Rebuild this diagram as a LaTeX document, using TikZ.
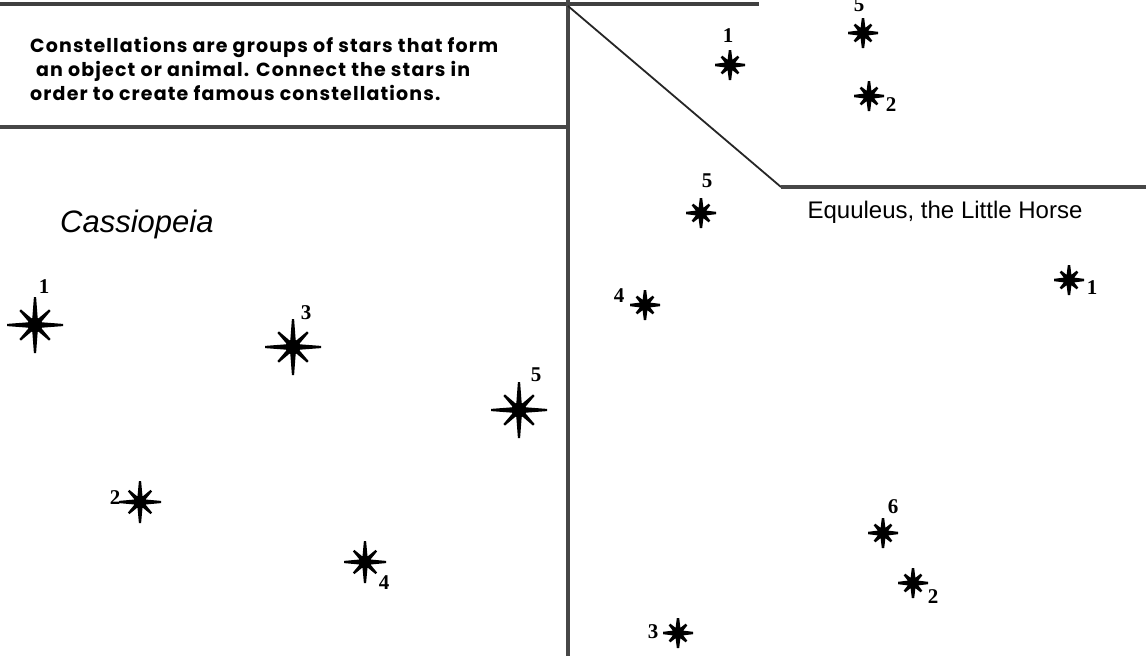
\documentclass[tikz,border=0pt]{standalone}
\usepackage{fontspec}
\setmainfont{Liberation Sans}
\newfontfamily\numfont{Liberation Serif}
\newfontfamily\comicfont[LetterSpace=6]{Poppins}
\begin{document}
\begin{tikzpicture}[x=1pt,y=-1pt,
  frameline/.style={draw=black!72, line width=3.2pt},
  topbar/.style={draw=black!75, line width=4.5pt},
  diagline/.style={draw=black!85, line width=1.8pt},
  lab/.style={font=\numfont\bfseries\fontsize{21}{21}\selectfont, inner sep=0pt},
  pics/starshape/.style n args={6}{code={
    % #1 main length, #2 diag length, #3 half base width, #4 half tip width, #5 blob radius, #6 diag half base
    \foreach \a in {0,90,180,270}
      \fill (\a+90:#3) -- ([shift={(\a:#1)}]\a+90:#4) -- ([shift={(\a:#1)}]\a-90:#4) -- (\a-90:#3) -- cycle;
    \foreach \a in {45,135,225,315}
      \fill (\a+90:#6) -- ([shift={(\a:#2)}]\a+90:#4) -- ([shift={(\a:#2)}]\a-90:#4) -- (\a-90:#6) -- cycle;
    \fill (0,0) circle[radius=#5];
  }},
  pics/bigstar/.style={starshape={28}{21}{3.2}{1.1}{7.5}{2.8}},
  pics/midstar/.style={starshape={21}{16}{3}{1.1}{6.5}{2.6}},
  pics/smallstar/.style={starshape={15}{12}{3}{1.2}{6}{2.6}}]
\useasboundingbox (0,0) rectangle (1146,656);
\clip (0,0) rectangle (1146,656);
\fill[white] (0,0) rectangle (1146,656);

% frame
\coordinate (barL) at (0,4);
\coordinate (barR) at (759,4);
\coordinate (vTop) at (568,0);
\coordinate (vBot) at (568,656);
\coordinate (midL) at (0,127);
\coordinate (midR) at (568,127);
\coordinate (dStart) at (568,6);
\coordinate (dEnd) at (781,187);
\coordinate (hEnd) at (1146,187);
\draw[topbar] (barL) -- (barR);
\draw[frameline] (vTop) -- (vBot);
\draw[frameline] (midL) -- (midR);
\draw[diagline] (dStart) -- (dEnd);
\draw[frameline] (dEnd) -- (hEnd);

% instruction text
\node[anchor=north west, align=left, inner sep=0pt,
      font=\comicfont\bfseries\fontsize{19}{24}\selectfont] (intro) at (30,37)
  {Constellations are groups of stars that form\\
   \hspace*{6pt}an object or animal. Connect the stars in\\
   order to create famous constellations.};

% titles
\node[anchor=west, inner sep=0pt, font=\itshape\fontsize{31}{31}\selectfont] (cassT) at (60,224) {Cassiopeia};
\node[inner sep=0pt, font=\fontsize{24}{24}\selectfont] (equT) at (945,212) {Equuleus, the Little Horse};

% Cassiopeia
\coordinate (c1) at (35,325);  \pic at (c1) {bigstar};
\coordinate (c2) at (140,502); \pic at (c2) {midstar};
\coordinate (c3) at (293,347); \pic at (c3) {bigstar};
\coordinate (c4) at (365,562); \pic at (c4) {midstar};
\coordinate (c5) at (519,410); \pic at (c5) {bigstar};
\node[lab] (c1l) at (44,287) {1};
\node[lab] (c2l) at (115,498) {2};
\node[lab] (c3l) at (306,313) {3};
\node[lab] (c4l) at (384,583) {4};
\node[lab] (c5l) at (536,375) {5};

% top-right constellation
\coordinate (t1) at (730,65);  \pic at (t1) {smallstar};
\coordinate (t2) at (869,96);  \pic at (t2) {smallstar};
\coordinate (t5) at (863,33);  \pic at (t5) {smallstar};
\node[lab] (t1l) at (728,36) {1};
\node[lab] (t2l) at (891,105) {2};
\node[lab] (t5l) at (859,5) {5};

% Equuleus
\coordinate (e1) at (1069,280); \pic at (e1) {smallstar};
\coordinate (e2) at (913,583);  \pic at (e2) {smallstar};
\coordinate (e3) at (678,633);  \pic at (e3) {smallstar};
\coordinate (e4) at (645,305);  \pic at (e4) {smallstar};
\coordinate (e5) at (701,213);  \pic at (e5) {smallstar};
\coordinate (e6) at (883,533);  \pic at (e6) {smallstar};
\node[lab] (e1l) at (1092,288) {1};
\node[lab] (e2l) at (933,597) {2};
\node[lab] (e3l) at (653,632) {3};
\node[lab] (e4l) at (619,296) {4};
\node[lab] (e5l) at (707,181) {5};
\node[lab] (e6l) at (893,507) {6};
\end{tikzpicture}
\end{document}
